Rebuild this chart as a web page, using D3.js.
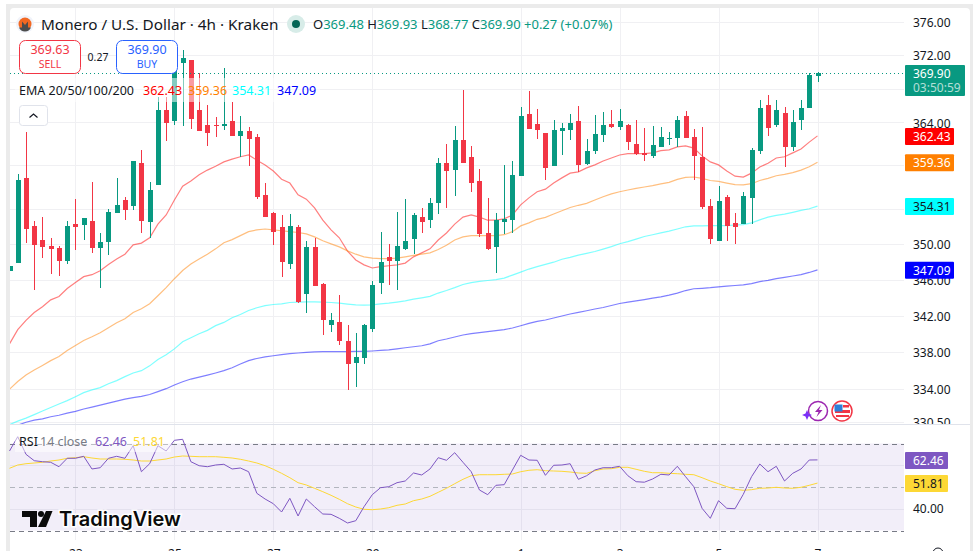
<!DOCTYPE html>
<html>
<head>
<meta charset="utf-8">
<script src="https://cdn.jsdelivr.net/npm/d3@7"></script>
<style>
  html, body { margin: 0; padding: 0; background: #fff; overflow: hidden; }
  svg { display: block; }
  text { font-family: "Noto Sans", sans-serif; fill: #131722; }
  .axis text { font-size: 12px; fill: #131722; }
  .axis .domain { display: none; }
</style>
</head>
<body>
<div id="chart"></div>
<script>
// values, one entry per 4h candle
const opens = [347.0,347.85,357.55,352.05,350.45,349.8,349.55,348.1,352.25,352.15,352.6,349.55,350.25,353.5,355,354.3,359.25,352.5,356.75,365.45,364.2,371.08,371.4,365.45,363.7,363.7,363.6,364.2,362.4,363,362.3,355.6,353.5,351.95,347.75,351.95,344.35,349.7,345.55,341,341.35,339.25,336.85,337.4,340.55,345.65,348.55,348.1,349.45,350.6,353.05,352.7,354.65,359.25,358.45,361.95,360,357.2,351.25,349.7,352.5,352.7,357.75,365,363.8,362.75,358.9,363,363.1,364.2,359.15,360.7,362.55,363.8,363.45,363.7,361.5,360.4,360.1,361.15,362.05,362.2,364.75,362.3,360,354.3,350.35,355.35,352.4,352.25,355.25,360.7,366.05,363.7,365.1,361.15,364.3,365.7,369.48];
const highs = [347.55,358,362.85,352.6,353.05,350.7,349.8,352.6,355.1,352.95,357.1,351.25,354,357.55,355.35,359.5,360.8,357.1,366.95,366.95,371.4,372.6,371.4,369.84,366.05,364.6,370.45,366.4,364.75,363.45,362.65,356.95,353.65,353.3,353.4,352.15,350.35,350.7,345.65,342.3,344.25,341,340.1,341.1,345.8,351.4,350,353.65,355.1,353.5,354.1,355.25,359.85,361.5,363.6,367.8,361.25,358.6,355.25,353.5,359.05,359.5,365.8,367.7,365.6,362.75,364.3,363.95,365,365.9,362.05,364.85,365.2,365.45,365.6,363.8,364.3,363.35,363.6,363.45,362.9,364.75,365.33,363.2,363.45,355.1,356.6,355.6,353.5,355.95,361,366.65,367.2,366.65,365.8,365.45,366.65,369.84,369.93];
const lows = [347,347.85,350.15,344.8,348.45,346.65,346.45,347.75,349.3,350.45,349,345.1,348.75,353.5,352.7,353.85,351.25,350.7,356.75,361.85,363.7,363.6,363.2,363,361.25,362.3,363.1,362.4,360,358.9,355.1,353.05,349.9,346.3,347.2,343.45,342.3,345.25,339.9,340.25,338.8,333.9,334.25,336.75,340.25,344.35,345.45,344.8,349.3,348.85,351.25,351.8,353.4,354.1,355.45,359.25,355.95,350.8,349.3,346.75,351.15,351.25,357.75,363.2,362.05,357.3,358.9,360.2,361.95,358.25,359.05,360.35,361.7,363.35,363.1,360.8,360.2,359.5,359.85,361.15,361.35,361.15,362.2,357.3,354,350,350.35,350.35,350,352.25,352.25,360.35,362.4,363.45,358.8,360.7,363.1,365.7,368.77];
const closes = [347.55,357.3,351.7,349.9,349.7,349.45,348.1,352.05,351.95,352.95,349.55,350.25,353.65,354.45,353.85,359.5,352.6,356.15,365.45,363.95,371.15,371.64,364.4,363,362.8,363.6,363.8,362.4,363,362.05,355.35,353.05,351.4,348,352.05,343.55,349.7,345.25,341.55,341.55,339.25,336.75,337.5,341,345.35,348,348.1,349.8,350.35,353.3,352.5,354.65,359.25,358.35,361.95,359.25,356.95,351.15,349.45,352.7,352.85,357.9,364.75,363.2,363.1,358.7,363.1,363.35,363.95,359.05,360.7,362.65,363.7,363.45,364.2,361.7,360.35,360.2,361.35,362.3,362.2,364.3,362.2,360.1,354.2,350.6,354.9,352.05,351.95,355.45,360.8,365.7,363.35,365.45,361.15,364.05,365.7,369.6,369.9];

const ema20 = [338.9,340.45,341.47,342.35,342.98,343.75,344.12,345,345.67,346.33,346.55,347,347.68,348.3,348.85,349.9,350.1,350.7,352.25,353.3,355,356.6,357.2,357.9,358.45,358.9,359.4,359.72,360,360.2,359.6,359.05,358.35,357.4,356.95,355.6,355.1,354.1,352.7,351.6,350.7,349.2,348.2,347.65,347.3,347.45,347.55,347.65,347.85,348.55,349,349.45,350.45,351.25,352.25,353.05,353.3,353.05,352.7,352.7,352.85,353.3,354.45,355.25,355.95,356.25,356.95,357.55,358.1,358.25,358.7,359.05,359.5,359.85,360.2,360.35,360.35,360.35,360.45,360.7,360.8,361.15,361.25,361,360.1,359.4,359.05,358.35,357.75,357.65,358.1,358.8,359.25,359.85,360,360.45,360.9,361.7,362.43];
const ema50 = [333.97,334.8,335.5,336.05,336.55,337.07,337.52,338.18,338.72,339.27,339.68,340.12,340.67,341.22,341.66,342.35,342.76,343.31,344.2,345.1,346.1,347.02,347.75,348.3,348.85,349.45,350.15,350.5,350.95,351.4,351.6,351.7,351.6,351.5,351.4,351.3,351.15,350.8,350.37,350.02,349.67,349.22,348.85,348.55,348.4,348.35,348.35,348.4,348.55,348.72,348.85,349,349.38,349.85,350.45,350.8,350.95,350.95,350.95,350.95,351.05,351.4,352.05,352.4,352.8,353.02,353.4,353.77,354.15,354.4,354.62,355,355.38,355.7,355.95,356.15,356.35,356.5,356.65,356.85,357.03,357.38,357.6,357.65,357.5,357.25,357.15,356.95,356.77,356.75,356.88,357.25,357.5,357.8,357.95,358.15,358.45,358.83,359.36];
const ema100 = [330.17,330.55,330.87,331.25,331.63,332,332.38,332.75,333.17,333.6,333.9,334.15,334.57,334.9,335.33,335.73,335.98,336.5,337.2,337.72,338.35,339.13,339.57,340,340.38,340.9,341.25,341.77,342.13,342.57,342.87,343.1,343.23,343.31,343.45,343.5,343.53,343.53,343.5,343.45,343.38,343.28,343.2,343.17,343.2,343.31,343.38,343.5,343.64,343.83,343.97,344.13,344.5,344.78,345.1,345.45,345.67,345.8,345.9,346,346.17,346.5,346.83,347.18,347.45,347.7,347.95,348.28,348.5,348.75,348.95,349.15,349.42,349.7,350.03,350.27,350.55,350.85,351.05,351.25,351.45,351.7,351.95,352.05,352.05,352.08,352.08,352.08,352.15,352.2,352.4,352.73,353.05,353.25,353.4,353.6,353.82,354,354.31];
const ema200 = [329.85,330.12,330.43,330.65,330.8,331.02,331.18,331.4,331.6,331.85,332.05,332.27,332.48,332.7,332.9,333.07,333.2,333.4,333.72,334.03,334.43,334.78,335.07,335.28,335.5,335.73,335.98,336.3,336.7,337.07,337.3,337.48,337.6,337.72,337.83,337.9,337.97,338.02,338.05,338.05,338.05,338.05,338.08,338.08,338.12,338.18,338.25,338.36,338.47,338.58,338.69,338.9,339.24,339.43,339.65,339.87,340.01,340.12,340.23,340.34,340.45,340.64,340.89,341.14,341.36,341.52,341.74,341.96,342.18,342.35,342.54,342.73,342.9,343.12,343.34,343.5,343.64,343.78,343.94,344.08,344.27,344.49,344.78,344.98,345.03,345.1,345.2,345.27,345.34,345.42,345.56,345.78,345.92,346.11,346.25,346.4,346.55,346.8,347.09];

const rsi = [66.55,73.13,65.03,62.09,61.63,61.36,59.33,63.2,63.2,64.11,58.28,58.87,63.2,64.11,63.2,68.99,57.03,60.71,68.99,66.55,71.47,71.93,61.63,59.79,59.33,60.11,60.44,58.28,58.73,57.03,47.1,44.48,42.32,38.5,44.8,36.67,44.48,40.94,37.58,37.44,35.61,33.45,34.5,40.94,46.46,49.68,50.14,51.98,52.76,56.44,55.52,58.28,63.47,62.28,65.77,61.36,57.03,48.62,46.46,50.78,51.06,57.82,64.57,62.41,62.28,55.38,59.98,60.11,60.71,53.54,55.19,57.82,58.87,58.87,59.52,55.19,52.44,52.2,53.68,55.84,55.52,59.52,54.73,50.14,40.2,35.61,43.7,40.2,40.02,46.64,54.73,60.57,57.03,59.52,52.76,56.3,58.28,62.41,62.46];
const rsiMa = [58.6,60.11,60.71,61.03,61.36,61.95,62.41,63.2,63.47,63.93,63.33,62.87,62.87,62.87,62.74,62.41,61.95,61.95,62.41,62.87,63.79,64.25,64.11,63.93,63.93,63.93,63.65,63.33,62.74,61.95,61.03,59.79,58.14,56.3,54.27,51.98,50.92,49.4,47.84,46.18,44.34,42.32,40.8,39.75,39.56,39.88,40.48,41.58,42.18,43.7,44.48,45.72,47.56,49.4,51.52,53.54,55.19,55.65,55.65,55.65,55.84,55.98,57.03,57.68,57.95,57.49,57.36,57.22,56.9,56.44,56.3,57.49,58.28,58.41,59.06,59.06,58.14,57.22,56.57,56.57,56.3,56.11,55.84,55.65,54.27,52.76,51.52,50.14,48.94,48.48,48.76,49.4,49.54,49.86,49.54,49.4,49.86,50.78,51.81];

const gridPrices = [376, 372, 368, 364, 359, 354, 350, 346, 342, 338, 334, 330.5];
const priceLabels = [376, 372, 364, 350, 346, 342, 338, 334, 330.5]; // the rest sit under the tags
const rsiTicks = [60, 40];
const rsiLevels = [70, 50, 30];
const dayIndex = [8, 20, 32, 44, 62, 74, 86, 98];
const dayLabels = ["23", "25", "27", "29", "1", "3", "5", "7"];
const emaColors = ["#ff0000", "#ff7f00", "#00ffff", "#0000ff"];

const WIDTH = 973, HEIGHT = 551;
const UP = "#089981", DOWN = "#f23645", GRID = "#f0f0f3";
const plotLeft = 10, plotRight = 904, paneBottom = 424, axisX = 913;

const svg = d3.select("#chart").append("svg")
  .attr("width", WIDTH)
  .attr("height", HEIGHT)
  .attr("viewBox", `0 0 ${WIDTH} ${HEIGHT}`);

const x = d3.scaleLinear().domain([0, 98]).range([9.5, 817.5]);
const y = d3.scaleLog().domain([376, 330.5]).range([22, 421.6]);
const yRsi = d3.scaleLinear().domain([70, 30]).range([443.5, 530.5]);

// page frame
svg.append("rect").attr("x", 6).attr("y", 4).attr("width", WIDTH - 6).attr("height", HEIGHT).attr("fill", "#ebebeb");
svg.append("rect").attr("x", plotLeft).attr("y", 8).attr("width", 960).attr("height", HEIGHT).attr("rx", 4).attr("fill", "#fff");

// grid
const grid = svg.append("g").attr("stroke", GRID).attr("shape-rendering", "crispEdges");
grid.selectAll(".h").data(gridPrices).enter().append("line")
  .attr("x1", plotLeft).attr("x2", plotRight)
  .attr("y1", d => Math.round(y(d)) + 0.5).attr("y2", d => Math.round(y(d)) + 0.5);
grid.selectAll(".v").data(dayIndex).enter().append("line")
  .attr("x1", d => Math.round(x(d)) + 0.5).attr("x2", d => Math.round(x(d)) + 0.5)
  .attr("y1", 8).attr("y2", 540);

// price axis
svg.append("g").attr("class", "axis")
  .attr("transform", `translate(${axisX}, 1)`)
  .call(d3.axisRight(y).tickValues(priceLabels).tickSize(0).tickPadding(0).tickFormat(d3.format(".2f")));

svg.append("clipPath").attr("id", "price-pane").append("rect")
  .attr("x", plotLeft).attr("y", 8).attr("width", plotRight - plotLeft).attr("height", paneBottom - 8);
const pricePane = svg.append("g").attr("clip-path", "url(#price-pane)");

// EMA lines sit under the candles
const priceLine = d3.line().x((d, i) => x(i)).y(d => y(d));
[ema20, ema50, ema100, ema200].forEach((values, i) => {
  pricePane.append("path")
    .attr("d", priceLine(values))
    .attr("fill", "none")
    .attr("stroke", emaColors[i])
    .attr("stroke-opacity", 0.5)
    .attr("stroke-width", 1.2);
});

const candles = pricePane.selectAll(".candle").data(d3.range(opens.length)).enter().append("g")
  .attr("class", "candle")
  .attr("fill", i => closes[i] >= opens[i] ? UP : DOWN)
  .attr("shape-rendering", "crispEdges");
candles.append("rect")
  .attr("x", i => Math.round(x(i)))
  .attr("width", 1)
  .attr("y", i => y(highs[i]))
  .attr("height", i => y(lows[i]) - y(highs[i]));
candles.append("rect")
  .attr("x", i => Math.round(x(i)) - 2)
  .attr("width", 5)
  .attr("y", i => y(Math.max(opens[i], closes[i])))
  .attr("height", i => Math.max(1, Math.abs(y(opens[i]) - y(closes[i]))));

// last price line
const lastY = Math.round(y(closes[closes.length - 1])) + 0.5;
svg.append("line")
  .attr("x1", plotLeft).attr("x2", plotRight)
  .attr("y1", lastY).attr("y2", lastY)
  .attr("stroke", UP)
  .attr("stroke-dasharray", "1 3");

// title row
svg.append("circle").attr("cx", 25).attr("cy", 24).attr("r", 9).attr("fill", "#f0f3fa");
svg.append("circle").attr("cx", 25).attr("cy", 24).attr("r", 6.5).attr("fill", "#f26822");
svg.append("path").attr("d", "M19 27.5 h3 v-6 l3 3.5 l3 -3.5 v6 h3 a6.5 6.5 0 0 1 -12 0 z").attr("fill", "#4c4c4c");
svg.append("text").attr("x", 41).attr("y", 30).attr("font-size", 15.3).text("Monero / U.S. Dollar · 4h · Kraken");
svg.append("circle").attr("cx", 296).attr("cy", 24).attr("r", 9).attr("fill", "#d7ece8");
svg.append("circle").attr("cx", 296).attr("cy", 24).attr("r", 4).attr("fill", "#056656");

const ohlc = svg.append("text").attr("x", 313).attr("y", 29).attr("font-size", 13);
[["O", "369.48"], ["H", "369.93"], ["L", "368.77"], ["C", "369.90"]].forEach(([k, v]) => {
  ohlc.append("tspan").text(k);
  ohlc.append("tspan").attr("style", `fill:${UP}`).text(v + " ");
});
ohlc.append("tspan").attr("style", `fill:${UP}`).text("+0.27 (+0.07%)");

// sell and buy boxes
function tradeBox(left, color, price, label) {
  svg.append("rect").attr("x", left).attr("y", 40.5).attr("width", 61).attr("height", 33).attr("rx", 6)
    .attr("fill", "#fff").attr("stroke", color);
  svg.append("text").attr("x", left + 30.5).attr("y", 54).attr("text-anchor", "middle").attr("font-size", 12.5)
    .attr("style", `fill:${color}`).text(price);
  svg.append("text").attr("x", left + 30.5).attr("y", 68).attr("text-anchor", "middle").attr("font-size", 10.5)
    .attr("style", `fill:${color}`).text(label);
}
tradeBox(19.5, DOWN, "369.63", "SELL");
tradeBox(116.5, "#2962ff", "369.90", "BUY");
svg.append("text").attr("x", 98).attr("y", 61).attr("text-anchor", "middle").attr("font-size", 10.5).text("0.27");

// EMA legend
svg.append("rect").attr("x", 15).attr("y", 78).attr("width", 305).attr("height", 24).attr("fill", "#fff").attr("fill-opacity", 0.5);
svg.append("text").attr("x", 19).attr("y", 95).attr("font-size", 12.5).text("EMA 20/50/100/200");
[ema20, ema50, ema100, ema200].forEach((values, i) => {
  svg.append("text").attr("x", [143, 188, 232, 277][i]).attr("y", 95).attr("font-size", 12.5)
    .attr("style", `fill:${emaColors[i]}`)
    .text(values[values.length - 1].toFixed(2));
});
svg.append("rect").attr("x", 19.5).attr("y", 105.5).attr("width", 28).attr("height", 20).attr("rx", 3)
  .attr("fill", "#fff").attr("stroke", "#e0e3eb");
svg.append("path").attr("d", "M29.5 117.5 l4 -3.5 l4 3.5").attr("fill", "none").attr("stroke", "#131722").attr("stroke-width", 1.2);

// event icons
svg.append("circle").attr("cx", 818).attr("cy", 411).attr("r", 9.5).attr("fill", "#fff").attr("stroke", "#9c27b0").attr("stroke-width", 1.5);
svg.append("path").attr("d", "M821 405 l-6 7 h3.5 l-2 5 l6 -7 h-3.5 z").attr("fill", "#9c27b0");
svg.append("path").attr("d", "M807 410 l1.5 3.5 l3.5 1.5 l-3.5 1.5 l-1.5 3.5 l-1.5 -3.5 l-3.5 -1.5 l3.5 -1.5 z").attr("fill", "#7b2ff7");
svg.append("circle").attr("cx", 842).attr("cy", 411).attr("r", 10).attr("fill", "#fff").attr("stroke", "#f23645").attr("stroke-width", 1.5);
svg.append("rect").attr("x", 835).attr("y", 410).attr("width", 15).attr("height", 3).attr("fill", "#f23645");
svg.append("rect").attr("x", 836).attr("y", 415).attr("width", 13).attr("height", 2).attr("fill", "#f23645");
svg.append("rect").attr("x", 834.5).attr("y", 404.5).attr("width", 8).attr("height", 7).attr("fill", "#2d7fd8");
svg.append("rect").attr("x", 843).attr("y", 405).attr("width", 6).attr("height", 2.5).attr("fill", "#f23645");

// tags on the price axis
function tag(centerY, h, w, fill, color, label) {
  svg.append("rect").attr("x", 905).attr("y", centerY - h / 2).attr("width", w).attr("height", h).attr("rx", 1).attr("fill", fill);
  svg.append("text").attr("x", axisX).attr("y", centerY + 4.5).attr("font-size", 12).attr("style", `fill:${color}`).text(label);
}
[ema20, ema50, ema100, ema200].forEach((values, i) => {
  const last = values[values.length - 1];
  tag(y(last) + 0.5, 17, 49, emaColors[i], i === 2 ? "#131722" : "#fff", last.toFixed(2));
});
svg.append("rect").attr("x", 905).attr("y", 65).attr("width", 60).attr("height", 31).attr("rx", 1).attr("fill", UP);
svg.append("text").attr("x", axisX).attr("y", 78).attr("font-size", 12).attr("style", "fill:#fff").text("369.90");
svg.append("text").attr("x", axisX).attr("y", 92).attr("font-size", 12).attr("style", "fill:#fff;fill-opacity:.7").text("03:50:59");

// RSI pane
svg.append("rect").attr("x", 6).attr("y", paneBottom).attr("width", 4).attr("height", HEIGHT - paneBottom).attr("fill", "#ebebeb");
svg.append("rect").attr("x", plotLeft).attr("y", paneBottom).attr("width", 960).attr("height", HEIGHT - paneBottom).attr("fill", "#fff");
svg.append("line").attr("x1", plotLeft).attr("x2", 970).attr("y1", paneBottom + 0.5).attr("y2", paneBottom + 0.5).attr("stroke", "#e0e3eb");

const rsiPane = svg.append("g");
rsiPane.selectAll(".v").data(dayIndex).enter().append("line")
  .attr("x1", d => Math.round(x(d)) + 0.5).attr("x2", d => Math.round(x(d)) + 0.5)
  .attr("y1", paneBottom + 1).attr("y2", 540)
  .attr("stroke", GRID);
rsiPane.append("rect")
  .attr("x", plotLeft).attr("width", plotRight - plotLeft)
  .attr("y", yRsi(70)).attr("height", yRsi(30) - yRsi(70))
  .attr("fill", "#7e57c2").attr("fill-opacity", 0.1);
rsiPane.selectAll(".tick60").data(rsiTicks).enter().append("line")
  .attr("x1", plotLeft).attr("x2", plotRight)
  .attr("y1", d => Math.round(yRsi(d)) + 0.5).attr("y2", d => Math.round(yRsi(d)) + 0.5)
  .attr("stroke", "#e4e1ee");
rsiPane.selectAll(".level").data(rsiLevels).enter().append("line")
  .attr("x1", plotLeft).attr("x2", plotRight)
  .attr("y1", d => Math.round(yRsi(d)) + 0.5).attr("y2", d => Math.round(yRsi(d)) + 0.5)
  .attr("stroke", d => d === 50 ? "#b2b5be" : "#787b86")
  .attr("stroke-dasharray", "5 4");

const rsiLine = d3.line().x((d, i) => x(i)).y(d => yRsi(d));
rsiPane.append("path").attr("d", rsiLine(rsiMa)).attr("fill", "none").attr("stroke", "#fdd835").attr("stroke-width", 1);
rsiPane.append("path").attr("d", rsiLine(rsi)).attr("fill", "none").attr("stroke", "#7e57c2").attr("stroke-width", 1);

// RSI legend
svg.append("rect").attr("x", 15).attr("y", 431).attr("width", 156).attr("height", 21).attr("fill", "#fff").attr("fill-opacity", 0.5);
[["RSI", 19, "#131722"], ["14 close", 40, "#787b86"], ["62.46", 95, "#7e57c2"], ["51.81", 133, "#fdd835"]].forEach(([label, left, color]) => {
  svg.append("text").attr("x", left).attr("y", 446).attr("font-size", 12.5).attr("style", `fill:${color}`).text(label);
});

// RSI axis and tags
svg.append("g").attr("class", "axis")
  .attr("transform", `translate(${axisX}, 0)`)
  .call(d3.axisRight(yRsi).tickValues([40]).tickSize(0).tickPadding(0).tickFormat(d3.format(".2f")));
svg.append("rect").attr("x", 905).attr("y", 452).attr("width", 43).attr("height", 17).attr("rx", 1).attr("fill", "#7e57c2");
svg.append("text").attr("x", axisX).attr("y", 465).attr("font-size", 12).attr("style", "fill:#fff").text("62.46");
svg.append("rect").attr("x", 905).attr("y", 475).attr("width", 43).attr("height", 17).attr("rx", 1).attr("fill", "#fdd835");
svg.append("text").attr("x", axisX).attr("y", 488).attr("font-size", 12).text("51.81");

// TradingView mark
const logo = svg.append("g").attr("fill", "#0b0b0b");
logo.append("path").attr("d", "M22 511 h15 v16 h-7 v-10 h-8 z");
logo.append("circle").attr("cx", 41).attr("cy", 514).attr("r", 3);
logo.append("path").attr("d", "M46 511 h6.5 l-6.5 16 h-8 z");
svg.append("text").attr("x", 59).attr("y", 526).attr("font-size", 20).attr("font-weight", 600)
  .attr("style", "font-family:Inter,sans-serif;fill:#0b0b0b;stroke:#fff;stroke-width:3px;paint-order:stroke")
  .text("TradingView");

// time axis is cut off by the window bottom
svg.append("g").attr("class", "axis")
  .attr("transform", "translate(0, 549)")
  .call(d3.axisBottom(x).tickValues(dayIndex).tickSize(0).tickPadding(0).tickFormat((d, i) => dayLabels[i]));
svg.append("circle").attr("cx", 938).attr("cy", 553).attr("r", 5).attr("fill", "none").attr("stroke", "#131722");
</script>
</body>
</html>
